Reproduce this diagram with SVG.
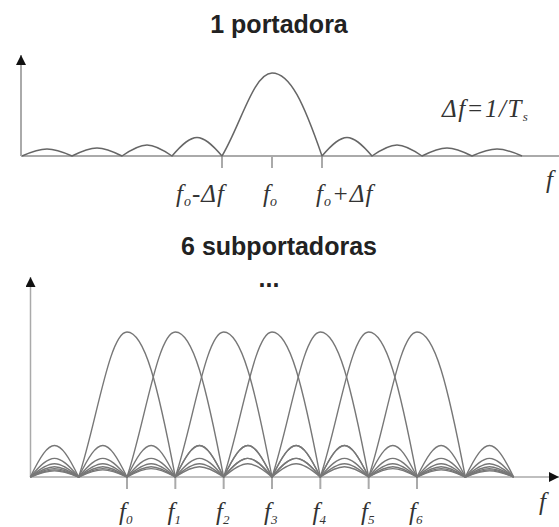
<svg xmlns="http://www.w3.org/2000/svg" width="559" height="527" viewBox="0 0 559 527">
<style>
.title{font-family:"Liberation Sans",Arial,sans-serif;font-weight:bold;font-size:25px;fill:#222;text-anchor:middle}
.lbl{font-family:"Liberation Serif","Times New Roman",serif;font-style:italic;font-size:25px;fill:#333}
.axis{stroke:#aaa;stroke-width:2;fill:none}
.tick{stroke:#aaa;stroke-width:2}
.c1{stroke:#666;stroke-width:1.5;fill:none;stroke-linejoin:round}
.c2{stroke:#777;stroke-width:1.4;fill:none;stroke-linejoin:round}
</style>
<defs>
<marker id="arr" viewBox="0 0 10 10" refX="10" refY="5" markerWidth="10" markerHeight="10" markerUnits="userSpaceOnUse" orient="auto">
<path d="M0,0 L10,5 L0,10 Z" fill="#111"/>
</marker>
</defs>
<rect width="559" height="527" fill="#fff"/>

<g id="top-plot">
<text class="title" x="279" y="33">1 portadora</text>
<line class="axis" x1="21" y1="156" x2="21" y2="55" marker-end="url(#arr)"/>
<line class="axis" x1="21" y1="156" x2="559" y2="156"/>
<line class="tick" x1="222" y1="156" x2="222" y2="168"/>
<line class="tick" x1="272" y1="156" x2="272" y2="168"/>
<line class="tick" x1="322" y1="156" x2="322" y2="168"/>
<path class="c1" d="M22,156 c21.22,-9.3 28.78,-9.3 50,0 c21.22,-10.7 28.78,-10.7 50,0 c21.22,-14.7 28.78,-14.7 50,0 c21.22,-24.7 28.78,-24.7 50,0 c18.25,-30.3 31.75,-83 50,-83 c18.25,0 31.75,30.3 50,83 c21.22,-24.7 28.78,-24.7 50,0 c21.22,-14.7 28.78,-14.7 50,0 c21.22,-10.7 28.78,-10.7 50,0 c21.22,-9.3 28.78,-9.3 50,0"/>
<text class="lbl" x="176" y="202" letter-spacing="1">f<tspan font-size="14" dy="4">o</tspan><tspan dy="-4">-Δf</tspan></text>
<text class="lbl" x="263" y="202">f<tspan font-size="14" dy="4">o</tspan></text>
<text class="lbl" x="316" y="202" letter-spacing="1">f<tspan font-size="14" dy="4">o</tspan><tspan dy="-4">+Δf</tspan></text>
<text class="lbl" x="442" y="117" font-size="22" letter-spacing="1.5">Δf=1/T<tspan font-size="13" dy="4">s</tspan></text>
<text class="lbl" x="546" y="188">f</text>
</g>

<g id="bottom-plot">
<text class="title" x="279" y="255">6 subportadoras</text>
<text class="title" x="269" y="287" font-size="34">...</text>
<line class="axis" x1="30.5" y1="477" x2="30.5" y2="277" marker-end="url(#arr)" style="stroke-width:1.5"/>
<line class="axis" x1="30" y1="477" x2="559" y2="477" marker-end="url(#arr)" style="stroke-width:1.5"/>
<g id="ticks">
<line class="tick" x1="127" y1="477" x2="127" y2="489"/>
<line class="tick" x1="175.33" y1="477" x2="175.33" y2="489"/>
<line class="tick" x1="223.67" y1="477" x2="223.67" y2="489"/>
<line class="tick" x1="272" y1="477" x2="272" y2="489"/>
<line class="tick" x1="320.33" y1="477" x2="320.33" y2="489"/>
<line class="tick" x1="368.67" y1="477" x2="368.67" y2="489"/>
<line class="tick" x1="417" y1="477" x2="417" y2="489"/>
</g>
<g id="carriers">
<path id="f0" class="c2" d="M30.33,477 c20.51,-42 27.820,-42 48.33,0 c17.64,-52.93 30.69,-145 48.33,-145 c17.64,0 30.69,52.93 48.33,145 c20.51,-42 27.82,-42 48.33,0 c20.51,-24.8 27.82,-24.8 48.33,0 c20.51,-17.7 27.82,-17.7 48.33,0 c20.51,-13.7 27.82,-13.7 48.33,0 c20.51,-11.2 27.82,-11.2 48.33,0 c20.51,-9.5 27.82,-9.5 48.33,0 c20.51,-8.2 27.82,-8.2 48.33,0"/>
<path id="f1" class="c2" d="M30.33,477 c20.51,-24.8 27.82,-24.8 48.33,0 c20.51,-42 27.82,-42 48.33,0 c17.64,-52.93 30.69,-145 48.33,-145 c17.64,0 30.69,52.93 48.33,145 c20.51,-42 27.82,-42 48.33,0 c20.51,-24.8 27.82,-24.8 48.33,0 c20.51,-17.7 27.82,-17.7 48.33,0 c20.51,-13.7 27.82,-13.7 48.33,0 c20.51,-11.2 27.82,-11.2 48.33,0 c20.51,-9.5 27.82,-9.5 48.33,0"/>
<path id="f2" class="c2" d="M30.33,477 c20.51,-17.7 27.82,-17.7 48.33,0 c20.51,-24.8 27.82,-24.8 48.33,0 c20.51,-42 27.82,-42 48.33,0 c17.64,-52.93 30.69,-145 48.33,-145 c17.64,0 30.69,52.93 48.33,145 c20.51,-42 27.82,-42 48.33,0 c20.51,-24.8 27.82,-24.8 48.33,0 c20.51,-17.7 27.82,-17.7 48.33,0 c20.51,-13.7 27.82,-13.7 48.33,0 c20.51,-11.2 27.82,-11.2 48.33,0"/>
<path id="f3" class="c2" d="M30.33,477 c20.51,-13.7 27.82,-13.7 48.33,0 c20.51,-17.7 27.82,-17.7 48.33,0 c20.51,-24.8 27.82,-24.8 48.33,0 c20.51,-42 27.82,-42 48.33,0 c17.64,-52.93 30.69,-145 48.33,-145 c17.64,0 30.69,52.93 48.33,145 c20.51,-42 27.82,-42 48.33,0 c20.51,-24.8 27.82,-24.8 48.33,0 c20.51,-17.7 27.82,-17.7 48.33,0 c20.51,-13.7 27.82,-13.7 48.33,0"/>
<path id="f4" class="c2" d="M30.33,477 c20.51,-11.2 27.82,-11.2 48.33,0 c20.51,-13.7 27.82,-13.7 48.33,0 c20.51,-17.7 27.82,-17.7 48.33,0 c20.51,-24.8 27.82,-24.8 48.33,0 c20.51,-42 27.82,-42 48.33,0 c17.64,-52.93 30.69,-145 48.33,-145 c17.64,0 30.69,52.93 48.33,145 c20.51,-42 27.82,-42 48.33,0 c20.51,-24.8 27.82,-24.8 48.33,0 c20.51,-17.7 27.82,-17.7 48.33,0"/>
<path id="f5" class="c2" d="M30.33,477 c20.51,-9.5 27.82,-9.5 48.33,0 c20.51,-11.2 27.82,-11.2 48.33,0 c20.51,-13.7 27.82,-13.7 48.33,0 c20.51,-17.7 27.82,-17.7 48.33,0 c20.51,-24.8 27.82,-24.8 48.33,0 c20.51,-42 27.82,-42 48.33,0 c17.64,-52.93 30.69,-145 48.33,-145 c17.64,0 30.69,52.93 48.33,145 c20.51,-42 27.82,-42 48.33,0 c20.51,-24.8 27.82,-24.8 48.33,0"/>
<path id="f6" class="c2" d="M30.33,477 c20.51,-8.2 27.82,-8.2 48.33,0 c20.51,-9.5 27.82,-9.5 48.33,0 c20.51,-11.2 27.82,-11.2 48.33,0 c20.51,-13.7 27.82,-13.7 48.33,0 c20.51,-17.7 27.82,-17.7 48.33,0 c20.51,-24.8 27.82,-24.8 48.33,0 c20.51,-42 27.82,-42 48.33,0 c17.64,-52.93 30.69,-145 48.33,-145 c17.64,0 30.69,52.93 48.33,145 c20.51,-42 27.82,-42 48.33,0"/>
</g>
<g id="labels">
<text class="lbl" x="119" y="520">f<tspan font-size="13" dy="4">0</tspan></text>
<text class="lbl" x="167.5" y="520">f<tspan font-size="13" dy="4">1</tspan></text>
<text class="lbl" x="216" y="520">f<tspan font-size="13" dy="4">2</tspan></text>
<text class="lbl" x="264" y="520">f<tspan font-size="13" dy="4">3</tspan></text>
<text class="lbl" x="312.5" y="520">f<tspan font-size="13" dy="4">4</tspan></text>
<text class="lbl" x="361" y="520">f<tspan font-size="13" dy="4">5</tspan></text>
<text class="lbl" x="409" y="520">f<tspan font-size="13" dy="4">6</tspan></text>
<text class="lbl" x="539" y="510">f</text>
</g>
</g>
</svg>
